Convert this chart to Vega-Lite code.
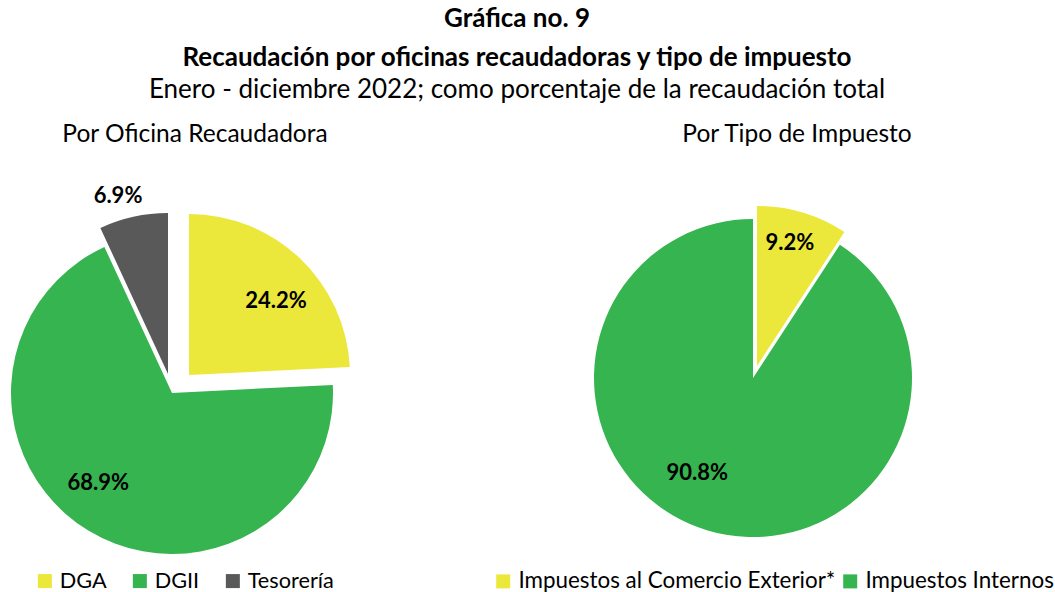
{
  "$schema": "https://vega.github.io/schema/vega-lite/v6.json",
  "padding": {"left": 0, "top": 5, "right": 0, "bottom": 0},
  "background": "white",
  "bounds": "flush",
  "title": {
    "text": ["Gráfica no. 9", "Recaudación por oficinas recaudadoras y tipo de impuesto"],
    "subtitle": "Enero - diciembre 2022; como porcentaje de la recaudación total",
    "anchor": "middle",
    "dx": -10,
    "font": "Lato",
    "fontSize": 26,
    "fontWeight": "bold",
    "color": "black",
    "lineHeight": 39,
    "subtitleFont": "Lato",
    "subtitleFontSize": 26,
    "subtitleColor": "black",
    "subtitlePadding": 6,
    "offset": 19
  },
  "datasets": {
    "oficina": [
      {"oficina": "DGA", "valor": 24.2},
      {"oficina": "DGII", "valor": 68.9},
      {"oficina": "Tesorería", "valor": 6.9}
    ],
    "tipo": [
      {"tipo": "Impuestos al Comercio Exterior*", "valor": 9.2},
      {"tipo": "Impuestos Internos", "valor": 90.8}
    ]
  },
  "spacing": 109,
  "hconcat": [
    {
      "width": 344,
      "height": 364,
      "title": {"text": "Por Oficina Recaudadora", "frame": "group", "dx": 23, "offset": 38, "fontSize": 24.5, "fontWeight": "normal", "font": "Lato", "color": "black"},
      "data": {"name": "oficina"},
      "transform": [
        {"stack": "valor", "groupby": [], "as": ["v0", "v1"]},
        {"calculate": "(datum.v0 + datum.v1) / 2", "as": "mid"},
        {"calculate": "format(datum.valor, '.1f') + '%'", "as": "lbl"}
      ],
      "layer": [
        {
          "transform": [{"filter": "datum.oficina == 'DGA'"}],
          "mark": {"type": "arc", "outerRadius": 161, "xOffset": 17, "yOffset": -18},
          "encoding": {
            "theta": {"field": "v0", "type": "quantitative", "stack": null, "scale": {"domain": [0, 100]}},
            "theta2": {"field": "v1"},
            "color": {"field": "oficina", "type": "nominal", "scale": {"domain": ["DGA", "DGII", "Tesorería"], "range": ["#EBE83B", "#35B44F", "#595959"]},
              "legend": {"title": null, "orient": "none", "legendX": 34, "legendY": 359, "direction": "horizontal", "symbolType": "square", "symbolSize": 196, "symbolStrokeWidth": 0, "labelFont": "Lato", "labelFontSize": 21.7, "labelColor": "black", "columnPadding": 22, "labelOffset": 4, "padding": 0}}
          }
        },
        {
          "transform": [{"filter": "datum.oficina == 'DGII'"}],
          "mark": {"type": "arc", "outerRadius": 161},
          "encoding": {
            "theta": {"field": "v0", "type": "quantitative", "stack": null, "scale": {"domain": [0, 100]}},
            "theta2": {"field": "v1"},
            "color": {"field": "oficina", "type": "nominal"}
          }
        },
        {
          "transform": [{"filter": "datum.oficina == 'Tesorería'"}],
          "mark": {"type": "arc", "outerRadius": 161, "xOffset": -4, "yOffset": -19},
          "encoding": {
            "theta": {"field": "v0", "type": "quantitative", "stack": null, "scale": {"domain": [0, 100]}},
            "theta2": {"field": "v1"},
            "color": {"field": "oficina", "type": "nominal"}
          }
        },
        {
          "transform": [{"filter": "datum.oficina == 'DGA'"}],
          "mark": {"type": "text", "radius": 139, "thetaOffset": 0.086, "font": "Lato", "fontSize": 22, "fontWeight": "bold", "color": "black", "align": "center", "baseline": "middle"},
          "encoding": {
            "theta": {"field": "mid", "type": "quantitative", "stack": null, "scale": {"domain": [0, 100]}},
            "text": {"field": "lbl"}
          }
        },
        {
          "transform": [{"filter": "datum.oficina == 'DGII'"}],
          "mark": {"type": "text", "radius": 116, "thetaOffset": 0.145, "font": "Lato", "fontSize": 22, "fontWeight": "bold", "color": "black", "align": "center", "baseline": "middle"},
          "encoding": {
            "theta": {"field": "mid", "type": "quantitative", "stack": null, "scale": {"domain": [0, 100]}},
            "text": {"field": "lbl"}
          }
        },
        {
          "transform": [{"filter": "datum.oficina == 'Tesorería'"}],
          "mark": {"type": "text", "radius": 204, "thetaOffset": -0.051, "font": "Lato", "fontSize": 22, "fontWeight": "bold", "color": "black", "align": "center", "baseline": "middle"},
          "encoding": {
            "theta": {"field": "mid", "type": "quantitative", "stack": null, "scale": {"domain": [0, 100]}},
            "text": {"field": "lbl"}
          }
        }
      ]
    },
    {
      "width": 600,
      "height": 334,
      "title": {"text": "Por Tipo de Impuesto", "frame": "group", "dx": 44, "offset": 59, "fontSize": 24.5, "fontWeight": "normal", "font": "Lato", "color": "black"},
      "data": {"name": "tipo"},
      "transform": [
        {"stack": "valor", "groupby": [], "as": ["v0", "v1"]},
        {"calculate": "(datum.v0 + datum.v1) / 2", "as": "mid"},
        {"calculate": "format(datum.valor, '.1f') + '%'", "as": "lbl"}
      ],
      "layer": [
        {
          "transform": [{"filter": "datum.tipo == 'Impuestos al Comercio Exterior*'"}],
          "mark": {"type": "arc", "outerRadius": 160, "xOffset": 4, "yOffset": -12},
          "encoding": {
            "theta": {"field": "v0", "type": "quantitative", "stack": null, "scale": {"domain": [0, 100]}},
            "theta2": {"field": "v1"},
            "color": {"field": "tipo", "type": "nominal", "scale": {"domain": ["Impuestos al Comercio Exterior*", "Impuestos Internos"], "range": ["#EBE83B", "#35B44F"]},
              "legend": {"title": null, "orient": "none", "legendX": 39, "legendY": 359, "direction": "horizontal", "symbolType": "square", "symbolSize": 196, "symbolStrokeWidth": 0, "labelFont": "Lato", "labelFontSize": 22.4, "labelColor": "black", "columnPadding": 3, "labelOffset": 4, "padding": 0, "labelLimit": 400}}
          }
        },
        {
          "transform": [{"filter": "datum.tipo == 'Impuestos Internos'"}],
          "mark": {"type": "arc", "outerRadius": 159},
          "encoding": {
            "theta": {"field": "v0", "type": "quantitative", "stack": null, "scale": {"domain": [0, 100]}},
            "theta2": {"field": "v1"},
            "color": {"field": "tipo", "type": "nominal"}
          }
        },
        {
          "transform": [{"filter": "datum.tipo == 'Impuestos al Comercio Exterior*'"}],
          "mark": {"type": "text", "radius": 140, "thetaOffset": -0.022, "font": "Lato", "fontSize": 22, "fontWeight": "bold", "color": "black", "align": "center", "baseline": "middle"},
          "encoding": {
            "theta": {"field": "mid", "type": "quantitative", "stack": null, "scale": {"domain": [0, 100]}},
            "text": {"field": "lbl"}
          }
        },
        {
          "transform": [{"filter": "datum.tipo == 'Impuestos Internos'"}],
          "mark": {"type": "text", "radius": 110, "thetaOffset": 0.243, "font": "Lato", "fontSize": 22, "fontWeight": "bold", "color": "black", "align": "center", "baseline": "middle"},
          "encoding": {
            "theta": {"field": "mid", "type": "quantitative", "stack": null, "scale": {"domain": [0, 100]}},
            "text": {"field": "lbl"}
          }
        }
      ]
    }
  ],
  "resolve": {"scale": {"color": "independent", "theta": "independent"}, "legend": {"color": "independent"}},
  "config": {"view": {"stroke": null}, "font": "Lato"}
}
